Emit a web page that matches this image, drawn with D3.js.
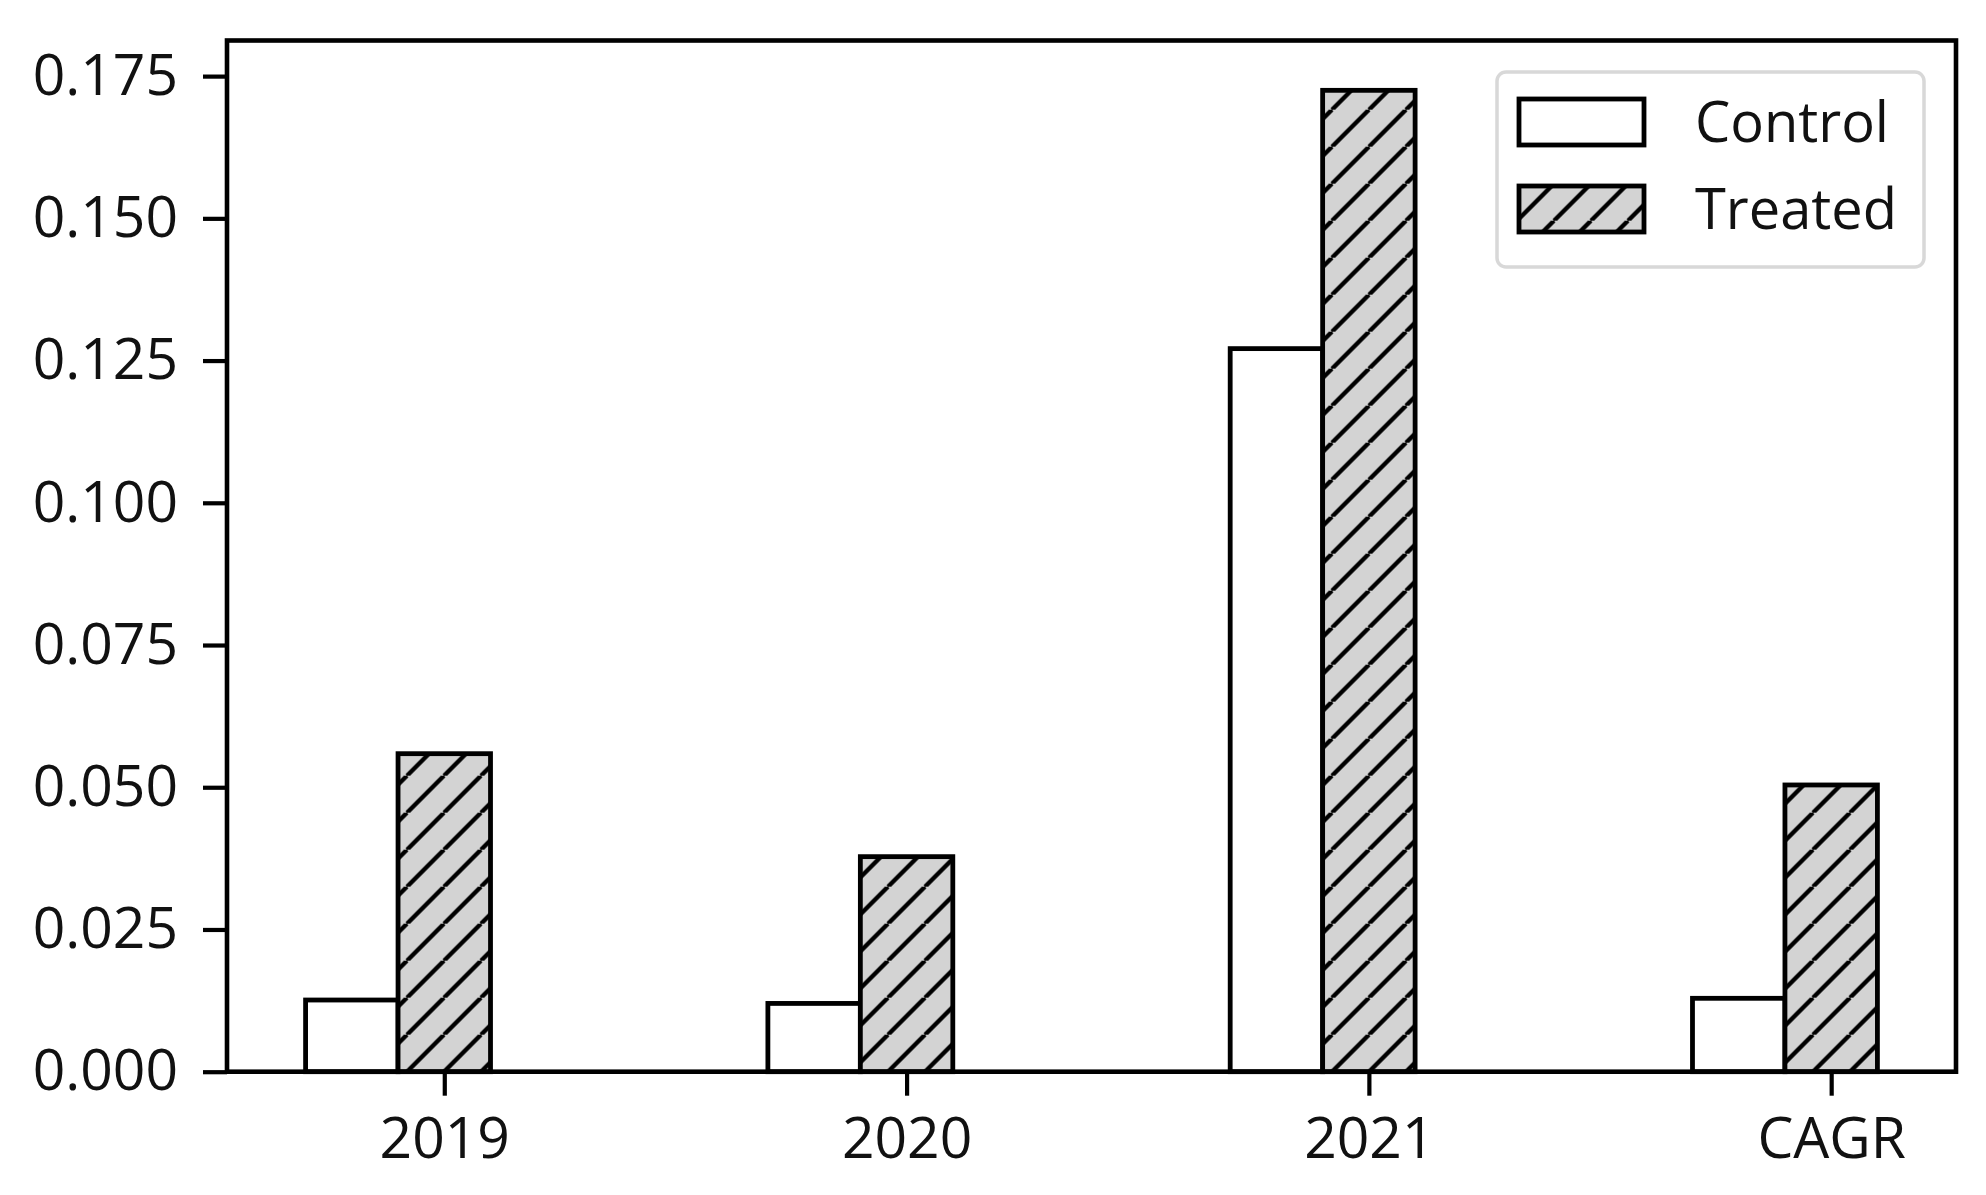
<!DOCTYPE html>
<html>
<head>
<meta charset="utf-8">
<script src="https://d3js.org/d3.v7.min.js"></script>
<style>
  body { margin: 0; background: #fff; }
  text { font-family: "Open Sans", "Noto Sans", sans-serif; fill: #111; }
</style>
</head>
<body>
<script>
    // values
    var categories = ["2019", "2020", "2021", "CAGR"];
    var control = [0.0126, 0.0120, 0.1271, 0.0129];
    var treated = [0.0559, 0.0378, 0.1725, 0.0504];
    var yTicks = [0, 0.025, 0.05, 0.075, 0.1, 0.125, 0.15, 0.175];
    var seriesNames = ["Control", "Treated"];

    var W = 1986, H = 1195;
    var plotLeft = 227, plotRight = 1956, plotTop = 40.5, plotBottom = 1071.7;
    var barW = 0.2;
    var edge = 4.8;

    var svg = d3.select("body").append("svg")
        .attr("width", W)
        .attr("height", H);

    // hatch pattern like matplotlib '//'
    var hs = 37;
    var defs = svg.append("defs");
    var pat = defs.append("pattern")
        .attr("id", "hatch")
        .attr("patternUnits", "userSpaceOnUse")
        .attr("x", 444)
        .attr("y", plotBottom - hs)
        .attr("width", hs)
        .attr("height", hs);
    pat.append("rect")
        .attr("width", hs)
        .attr("height", hs)
        .attr("fill", "#d3d3d3");
    pat.append("path")
        .attr("d", "M" + (-hs) + "," + hs + "L0,0M0," + hs + "L" + hs + ",0M" + hs + "," + hs + "L" + (2 * hs) + ",0")
        .attr("stroke", "#000")
        .attr("stroke-width", 4.4);

    var x = d3.scaleLinear()
        .domain([-0.47, 3.27])
        .range([plotLeft, plotRight]);
    var y = d3.scaleLinear()
        .domain([0, 0.18126])
        .range([plotBottom, plotTop]);

    // bars
    var g = svg.append("g");
    g.selectAll(".ctrl")
        .data(control)
        .enter()
        .append("rect")
        .attr("class", "ctrl")
        .attr("x", function (d, i) { return x(i - 1.5 * barW); })
        .attr("width", function (d, i) { return x(i - 0.5 * barW) - x(i - 1.5 * barW); })
        .attr("y", function (d) { return y(d); })
        .attr("height", function (d) { return y(0) - y(d); })
        .attr("fill", "#fff")
        .attr("stroke", "#000")
        .attr("stroke-width", edge);

    g.selectAll(".trt")
        .data(treated)
        .enter()
        .append("rect")
        .attr("class", "trt")
        .attr("x", function (d, i) { return x(i - 0.5 * barW); })
        .attr("width", function (d, i) { return x(i + 0.5 * barW) - x(i - 0.5 * barW); })
        .attr("y", function (d) { return y(d); })
        .attr("height", function (d) { return y(0) - y(d); })
        .attr("fill", "url(#hatch)")
        .attr("stroke", "#000")
        .attr("stroke-width", edge);

    // axes
    var yAxis = svg.append("g")
        .attr("transform", "translate(" + plotLeft + ",0)")
        .call(d3.axisLeft(y)
            .tickValues(yTicks)
            .tickFormat(d3.format(".3f"))
            .tickSize(24)
            .tickPadding(25));
    var xAxis = svg.append("g")
        .attr("transform", "translate(0," + plotBottom + ")")
        .call(d3.axisBottom(x)
            .tickValues([0, 1, 2, 3])
            .tickFormat(function (d) { return categories[d]; })
            .tickSize(24)
            .tickPadding(22));
    [yAxis, xAxis].forEach(function (a) {
        a.select(".domain").remove();
        a.selectAll(".tick line").attr("stroke", "#000").attr("stroke-width", 4.2);
        a.selectAll(".tick text")
            .style("font-family", "'Open Sans', 'Noto Sans', sans-serif")
            .style("font-size", "57px")
            .attr("fill", "#111");
    });

    // frame
    svg.append("rect")
        .attr("x", plotLeft)
        .attr("y", plotTop)
        .attr("width", plotRight - plotLeft)
        .attr("height", plotBottom - plotTop)
        .attr("fill", "none")
        .attr("stroke", "#000")
        .attr("stroke-width", 4.6);

    // legend
    var leg = svg.append("g");
    leg.append("rect")
        .attr("x", 1497)
        .attr("y", 72)
        .attr("width", 427)
        .attr("height", 195)
        .attr("rx", 9)
        .attr("fill", "#fff")
        .attr("fill-opacity", 0.8)
        .attr("stroke", "#d8d8d8")
        .attr("stroke-width", 3.5);
    seriesNames.forEach(function (name, i) {
        var yy = 99 + i * 87;
        leg.append("rect")
            .attr("x", 1519)
            .attr("y", yy)
            .attr("width", 125)
            .attr("height", 46)
            .attr("fill", i === 0 ? "#fff" : "url(#hatch)")
            .attr("stroke", "#000")
            .attr("stroke-width", edge);
        leg.append("text")
            .attr("x", 1695)
            .attr("y", yy + 23)
            .attr("dy", "0.35em")
            .style("font-size", "56px")
            .text(name);
    });
</script>
</body>
</html>
